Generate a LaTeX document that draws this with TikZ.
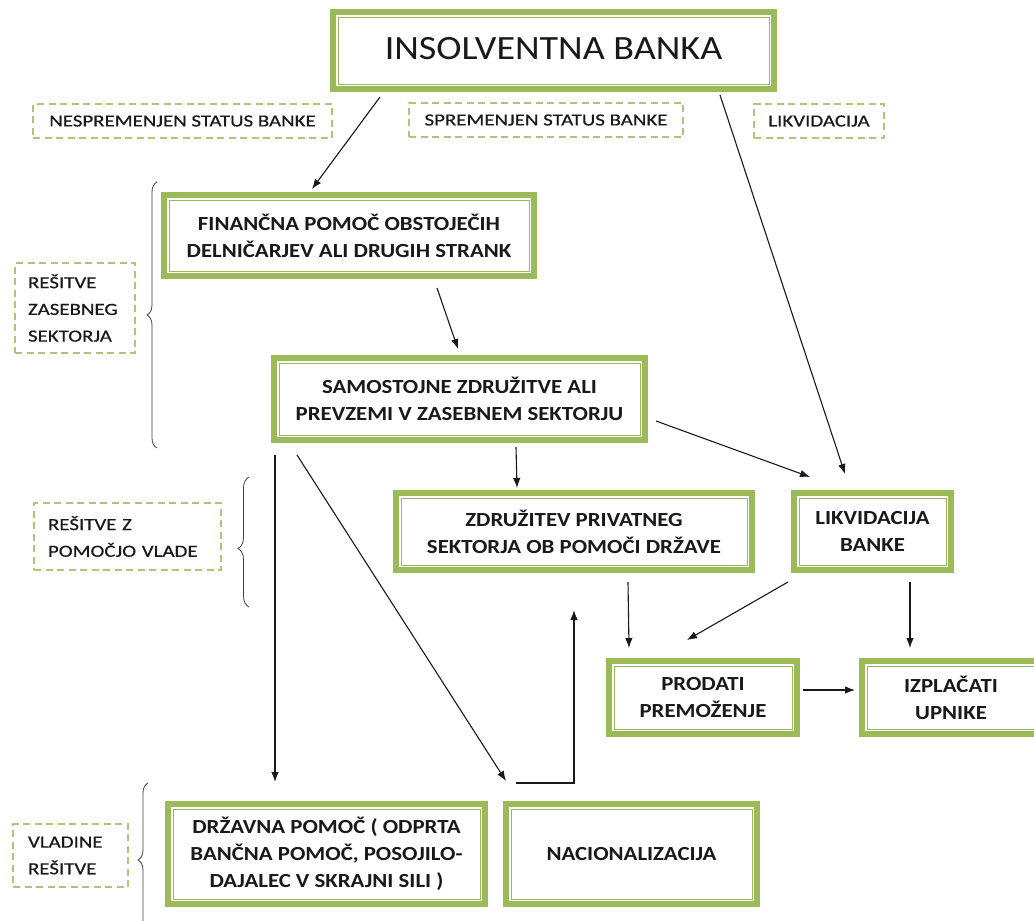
\documentclass[tikz,border=0pt]{standalone}
\usepackage{fontspec}
\setmainfont{Carlito}
\newfontfamily\bxfont{Carlito}[FakeStretch=1.14]
\newfontfamily\dlfont{Carlito}[FakeStretch=1.23,FakeBold=0.5]
\newfontfamily\tpfont{Carlito}[FakeStretch=1.12]
\usetikzlibrary{calc,arrows.meta,decorations.pathreplacing}
\definecolor{grn}{RGB}{155,187,89}
\definecolor{dgrn}{RGB}{172,198,122}
\definecolor{ink}{RGB}{25,25,25}
\newcommand\gbox[6][]{%
  \node[mainbox,minimum width=#4pt,minimum height=#5pt,#1] (#2) at (#3) {#6};
  \draw[grn,line width=1pt] ([shift={(5pt,-5pt)}]#2.north west) rectangle ([shift={(-5pt,5pt)}]#2.south east);}
\begin{document}
\begin{tikzpicture}[x=1pt,y=-1pt,
  mainbox/.style={draw=grn,line width=6pt,fill=white,inner sep=0pt,outer sep=0pt,
    align=center,text=ink,font=\bxfont\fontsize{20}{27}\selectfont\bfseries},
  dbox/.style={draw=dgrn,line width=1.5pt,dash pattern=on 7pt off 4.5pt,inner sep=0pt,
    text=ink,font=\dlfont\fontsize{17}{26.7}\selectfont},
  arr/.style={-{Latex[length=10pt,width=7.5pt]},line width=1.1pt,ink},
  bracestyle/.style={decorate,line width=0.8pt,black!75}]
\fill[white] (0,0) rectangle (1034,921);
\useasboundingbox (0,0) rectangle (1034,921);

% main boxes
\gbox[font=\tpfont\fontsize{34}{40}\selectfont]{top}{553.5,50.5}{441}{77}{\raisebox{4pt}{INSOLVENTNA BANKA}}
\gbox{fin}{349,235.5}{370}{81}{FINANČNA POMOČ OBSTOJEČIH\\DELNIČARJEV ALI DRUGIH STRANK}
\gbox{sam}{459.5,399}{371}{82}{SAMOSTOJNE ZDRUŽITVE ALI\\PREVZEMI V ZASEBNEM SEKTORJU}
\gbox{zdr}{574,531.5}{356}{77}{ZDRUŽITEV PRIVATNEG\\SEKTORJA OB POMOČI DRŽAVE}
\gbox{likb}{872.5,531.5}{157}{77}{LIKVIDACIJA\\BANKE}
\gbox{pro}{703,697.5}{188}{73}{PRODATI\\PREMOŽENJE}
\gbox{izp}{951,697.5}{178}{73}{IZPLAČATI\\UPNIKE}
\gbox{drz}{326.5,854}{317}{100}{DRŽAVNA POMOČ ( ODPRTA\\BANČNA POMOČ, POSOJILO-\\DAJALEC V SKRAJNI SILI )}
\gbox{nac}{631.5,854}{251}{100}{NACIONALIZACIJA}

% dashed labels
\node[dbox,minimum width=299pt,minimum height=34pt] (nes) at (182.5,121) {NESPREMENJEN STATUS BANKE};
\node[dbox,minimum width=274pt,minimum height=34pt] (spr) at (546,120) {SPREMENJEN STATUS BANKE};
\node[dbox,minimum width=130pt,minimum height=34pt] (likl) at (819,121) {LIKVIDACIJA};
\node[dbox,minimum height=90pt,text width=94pt,inner xsep=13pt,align=left] (rz) at (75,308) {REŠITVE\\ZASEBNEG\\SEKTORJA};
\node[dbox,minimum height=67pt,text width=159pt,inner xsep=14pt,align=left] (rv) at (127.5,536.5) {REŠITVE Z\\POMOČJO VLADE};
\node[dbox,minimum height=63pt,text width=85pt,inner xsep=15pt,align=left] (vr) at (70.5,855.5) {VLADINE\\REŠITVE};

% braces
\draw[bracestyle,decoration={brace,amplitude=10pt,aspect=0.5}] (157,448) -- (157,182);
\draw[bracestyle,decoration={brace,amplitude=11pt,aspect=0.45}] (249,607) -- (249,477);
\draw[bracestyle,decoration={brace,amplitude=10pt,aspect=0.5}] (148,937) -- (148,783);

% connectors
\draw[arr] ($(top)+(-173.5,46.5)$) -- ($(fin)+(-37,-46.5)$);
\draw[arr] ($(top)+(166.5,44.5)$) -- ($(likb)+(-27.5,-57.5)$);
\draw[arr] ($(fin)+(88,52.5)$) -- ($(sam)+(-1.5,-50)$);
\draw[arr] ($(sam)+(196.5,22)$) -- ($(likb)+(-62.5,-54.5)$);
\draw[arr] ($(sam)+(56.5,48)$) -- ($(zdr)+(-57,-43.5)$);
\draw[arr] ($(sam)+(-184.5,56)$) -- ($(drz)+(-51.5,-72)$);
\draw[arr] ($(sam)+(-162.5,56)$) -- ($(nac)+(-125.5,-73)$);
\draw[arr] ($(nac)+(-115.5,-71)$) -| ($(zdr)+(0,78.5)$);
\draw[arr] ($(zdr)+(54,50.5)$) -- ($(pro)+(-74,-49.5)$);
\draw[arr] ($(likb)+(-84.5,50.5)$) -- ($(pro)+(-16,-57.5)$);
\draw[arr] ($(likb)+(37.5,50.5)$) -- ($(izp)+(-41,-49.5)$);
\draw[arr] ($(pro)+(100,-7.5)$) -- ($(izp)+(-96,-7.5)$);
\end{tikzpicture}
\end{document}
